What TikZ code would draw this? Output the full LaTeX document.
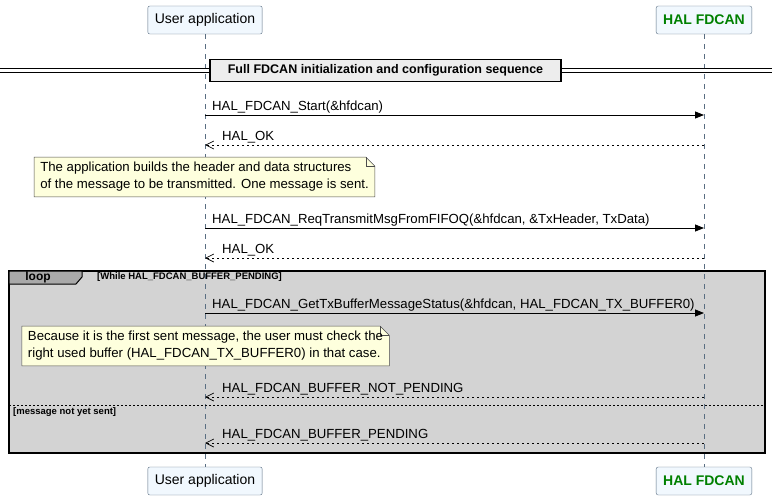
\documentclass[tikz,border=0pt]{standalone}
\usepackage{fontspec}
\setmainfont{Liberation Sans}
\usetikzlibrary{positioning,arrows.meta,backgrounds}
\definecolor{partfill}{HTML}{F1F8FE}
\definecolor{partline}{HTML}{5A6E82}
\definecolor{notefill}{HTML}{FEFFDD}
\definecolor{loopfill}{HTML}{D3D3D3}
\definecolor{tabfill}{HTML}{A9A9A9}
\definecolor{halgreen}{HTML}{008000}
\tikzset{
  part/.style={draw=partline, fill=partfill, rounded corners=2pt, minimum height=28pt, inner xsep=7pt, font=\fontsize{14}{16}\selectfont},
  msg/.style={-{Triangle[length=9pt,width=7pt]}, line width=0.8pt},
  ret/.style={-{Straight Barb[length=8pt,width=8pt]}, dash pattern=on 2.5pt off 2.5pt, line width=0.7pt},
  lbl/.style={anchor=south west, inner sep=1pt, font=\fontsize{13.2}{15}\selectfont},
  notebox/.style={align=left, inner xsep=6pt, inner ysep=5pt, font=\fontsize{13.2}{17}\selectfont},
  small/.style={font=\bfseries\fontsize{9.5}{11}\selectfont, inner sep=1pt}
}
\newcommand{\notefold}[1]{%
  \begin{pgfonlayer}{background}
    \draw[fill=notefill, draw=black!70, line width=0.5pt] (#1.north west) -- ([xshift=-9pt]#1.north east) -- ([yshift=-9pt]#1.north east) -- (#1.south east) -- (#1.south west) -- cycle;
    \draw[draw=black!70, line width=0.5pt] ([xshift=-9pt]#1.north east) |- ([yshift=-9pt]#1.north east);
  \end{pgfonlayer}}
\begin{document}
\begin{tikzpicture}[x=1pt,y=1pt]
\useasboundingbox (0,0) rectangle (778,-503);
% loop frame
\begin{scope}[on background layer]
\draw[fill=loopfill, line width=1.4pt] (9,-271) rectangle (765,-453);
\end{scope}
\draw[fill=tabfill, line width=1pt] (9,-271) -- (82,-271) -- (82,-277) -- (76,-284) -- (9,-284) -- cycle;
\node[font=\bfseries\fontsize{12}{14}\selectfont] (loop) at (38,-277.5) {loop};
\node[small, anchor=west] (cond) at (96,-277) {[While HAL\_FDCAN\_BUFFER\_PENDING]};
\draw[dash pattern=on 2pt off 2pt, line width=0.6pt] (9,-405) -- (765,-405);
\node[small, anchor=west] (alt) at (12,-412) {[message not yet sent]};
% participants
\node[part] (user) at (205,-20) {User application};
\node[part, font=\bfseries\fontsize{14}{16}\selectfont, text=halgreen] (hal) at (704,-20) {HAL FDCAN};
\node[part] (userb) at (205,-481) {User application};
\node[part, font=\bfseries\fontsize{14}{16}\selectfont, text=halgreen] (halb) at (704,-481) {HAL FDCAN};
\begin{scope}[on background layer]
\draw[dash pattern=on 5pt off 5pt, draw=partline, line width=0.6pt] (user) -- (userb);
\draw[dash pattern=on 5pt off 5pt, draw=partline, line width=0.6pt] (hal) -- (halb);
\end{scope}
% divider
\draw[line width=0.8pt] (0,-68) -- (772,-68);
\draw[line width=0.8pt] (0,-72) -- (772,-72);
\node[draw, fill=black!7, line width=1.4pt, minimum width=351pt, minimum height=22pt, font=\bfseries\fontsize{12.5}{14}\selectfont] (init) at (385.5,-70.5) {Full FDCAN initialization and configuration sequence};
% messages
\foreach \y/\n in {115/a,145/b,228/c,258/d,313/e,397/f,443/g}{
  \coordinate (u\n) at (205,-\y);
  \coordinate (h\n) at (704,-\y);
}
\draw[msg] (ua) -- (ha);
\node[lbl] (la) at ([xshift=6pt,yshift=1pt]ua) {HAL\_FDCAN\_Start(\&hfdcan)};
\draw[ret] (hb) -- (ub);
\node[lbl] (lb) at ([xshift=16pt,yshift=1pt]ub) {HAL\_OK};
\node[notebox] (note1) at (204.5,-177) {The application builds the header and data structures\\ of the message to be transmitted. One message is sent.};
\notefold{note1}
\draw[msg] (uc) -- (hc);
\node[lbl] (lc) at ([xshift=6pt,yshift=1pt]uc) {HAL\_FDCAN\_ReqTransmitMsgFromFIFOQ(\&hfdcan, \&TxHeader, TxData)};
\draw[ret] (hd) -- (ud);
\node[lbl] (ld) at ([xshift=16pt,yshift=1pt]ud) {HAL\_OK};
\draw[msg] (ue) -- (he);
\node[lbl] (le) at ([xshift=6pt,yshift=1pt]ue) {HAL\_FDCAN\_GetTxBufferMessageStatus(\&hfdcan, HAL\_FDCAN\_TX\_BUFFER0)};
\node[notebox] (note2) at (205.5,-346) {Because it is the first sent message, the user must check the\\ right used buffer (HAL\_FDCAN\_TX\_BUFFER0) in that case.};
\notefold{note2}
\draw[ret] (hf) -- (uf);
\node[lbl] (lf) at ([xshift=16pt,yshift=1pt]uf) {HAL\_FDCAN\_BUFFER\_NOT\_PENDING};
\draw[ret] (hg) -- (ug);
\node[lbl] (lg) at ([xshift=16pt,yshift=1pt]ug) {HAL\_FDCAN\_BUFFER\_PENDING};
\end{tikzpicture}
\end{document}
